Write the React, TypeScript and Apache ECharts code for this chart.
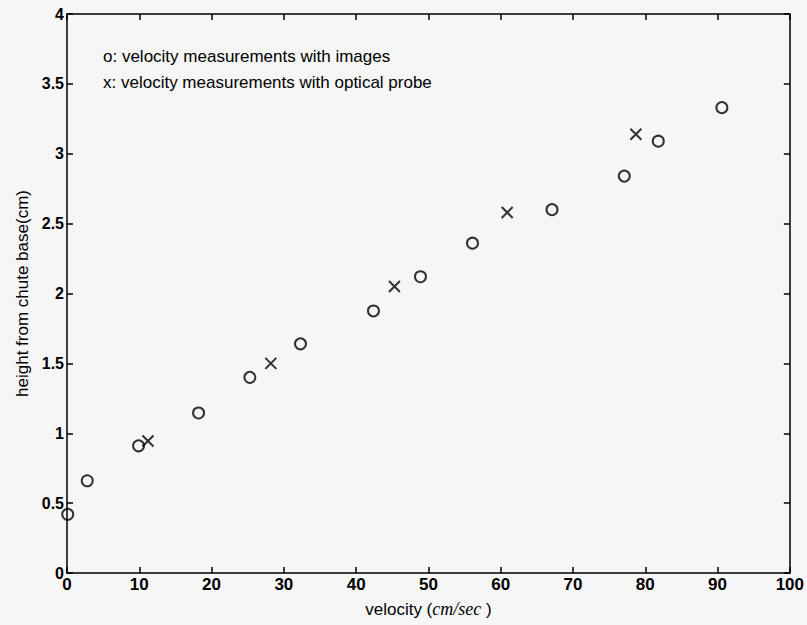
import React, { useEffect, useRef } from "react";
import * as echarts from "echarts";

const imageVelocity = [0.1, 2.8, 9.9, 18.2, 25.3, 32.3, 42.4, 48.9, 56.1, 67.1, 77.1, 81.8, 90.6];
const imageHeight = [0.42, 0.66, 0.91, 1.145, 1.40, 1.64, 1.875, 2.12, 2.36, 2.60, 2.84, 3.09, 3.33];
const probeVelocity = [11.2, 28.2, 45.3, 60.9, 78.7];
const probeHeight = [0.945, 1.50, 2.05, 2.58, 3.14];
const legendLines = [
  "o: velocity measurements with images",
  "x: velocity measurements with optical probe",
];

export default function App() {
  const ref = useRef<HTMLDivElement>(null);
  useEffect(() => {
    if (!ref.current) return;
    const chart = echarts.init(ref.current, null, { renderer: "svg" });
    const font = "'Liberation Sans', Arial, sans-serif";
    const labelStyle = { color: "#000", fontFamily: font, fontSize: 16, fontWeight: "bold" as const };
    const axisLine = { show: true, onZero: false, lineStyle: { color: "#000", width: 1.5 } };
    const tick = { show: true, inside: true, length: 6, lineStyle: { color: "#000", width: 1.5 } };
    chart.setOption({
      animation: false,
      backgroundColor: "#f6f6f6",
      grid: { left: 67, right: 16, top: 14, bottom: 52 },
      xAxis: [
        {
          type: "value",
          min: 0,
          max: 100,
          interval: 10,
          axisLine,
          axisTick: tick,
          splitLine: { show: false },
          axisLabel: { ...labelStyle, fontSize: 17, margin: 3 },
          name: "{a|velocity (}{b|cm/sec}{a| )}",
          nameLocation: "middle",
          nameGap: 27,
          nameTextStyle: {
            rich: {
              a: { fontFamily: font, fontSize: 17, color: "#000" },
              b: { fontFamily: "'Liberation Serif', serif", fontStyle: "italic", fontSize: 18, color: "#000" },
            },
          },
        },
        {
          type: "value",
          position: "top",
          min: 0,
          max: 100,
          interval: 10,
          axisLine,
          axisTick: tick,
          splitLine: { show: false },
          axisLabel: { show: false },
        },
      ],
      yAxis: [
        {
          type: "value",
          min: 0,
          max: 4,
          interval: 0.5,
          axisLine,
          axisTick: tick,
          splitLine: { show: false },
          axisLabel: { ...labelStyle, margin: 3 },
          name: "height from chute base(cm)",
          nameLocation: "middle",
          nameGap: 34,
          nameTextStyle: { fontFamily: font, fontSize: 17, color: "#000" },
        },
        {
          type: "value",
          position: "right",
          min: 0,
          max: 4,
          interval: 0.5,
          axisLine,
          axisTick: tick,
          splitLine: { show: false },
          axisLabel: { show: false },
        },
      ],
      series: [
        {
          type: "scatter",
          name: "images",
          data: imageVelocity.map((v, i) => [v, imageHeight[i]]),
          symbol: "circle",
          symbolSize: 11,
          itemStyle: { color: "rgba(0,0,0,0)", borderColor: "#000", borderWidth: 2 },
        },
        {
          type: "scatter",
          name: "optical probe",
          data: probeVelocity.map((v, i) => [v, probeHeight[i]]),
          symbol: "path://M0,0L10,10M10,0L0,10",
          symbolSize: 11,
          itemStyle: { color: "rgba(0,0,0,0)", borderColor: "#000", borderWidth: 2 },
        },
      ],
      graphic: legendLines.map((t, i) => ({
        type: "text",
        left: 103,
        top: 48 + i * 26,
        style: { text: t, fontFamily: font, fontSize: 17, fill: "#000" },
      })),
    });
    return () => chart.dispose();
  }, []);
  return (
    <div
      ref={ref}
      style={{ position: "absolute", left: 0, top: 0, width: 807, height: 625 }}
    />
  );
}
